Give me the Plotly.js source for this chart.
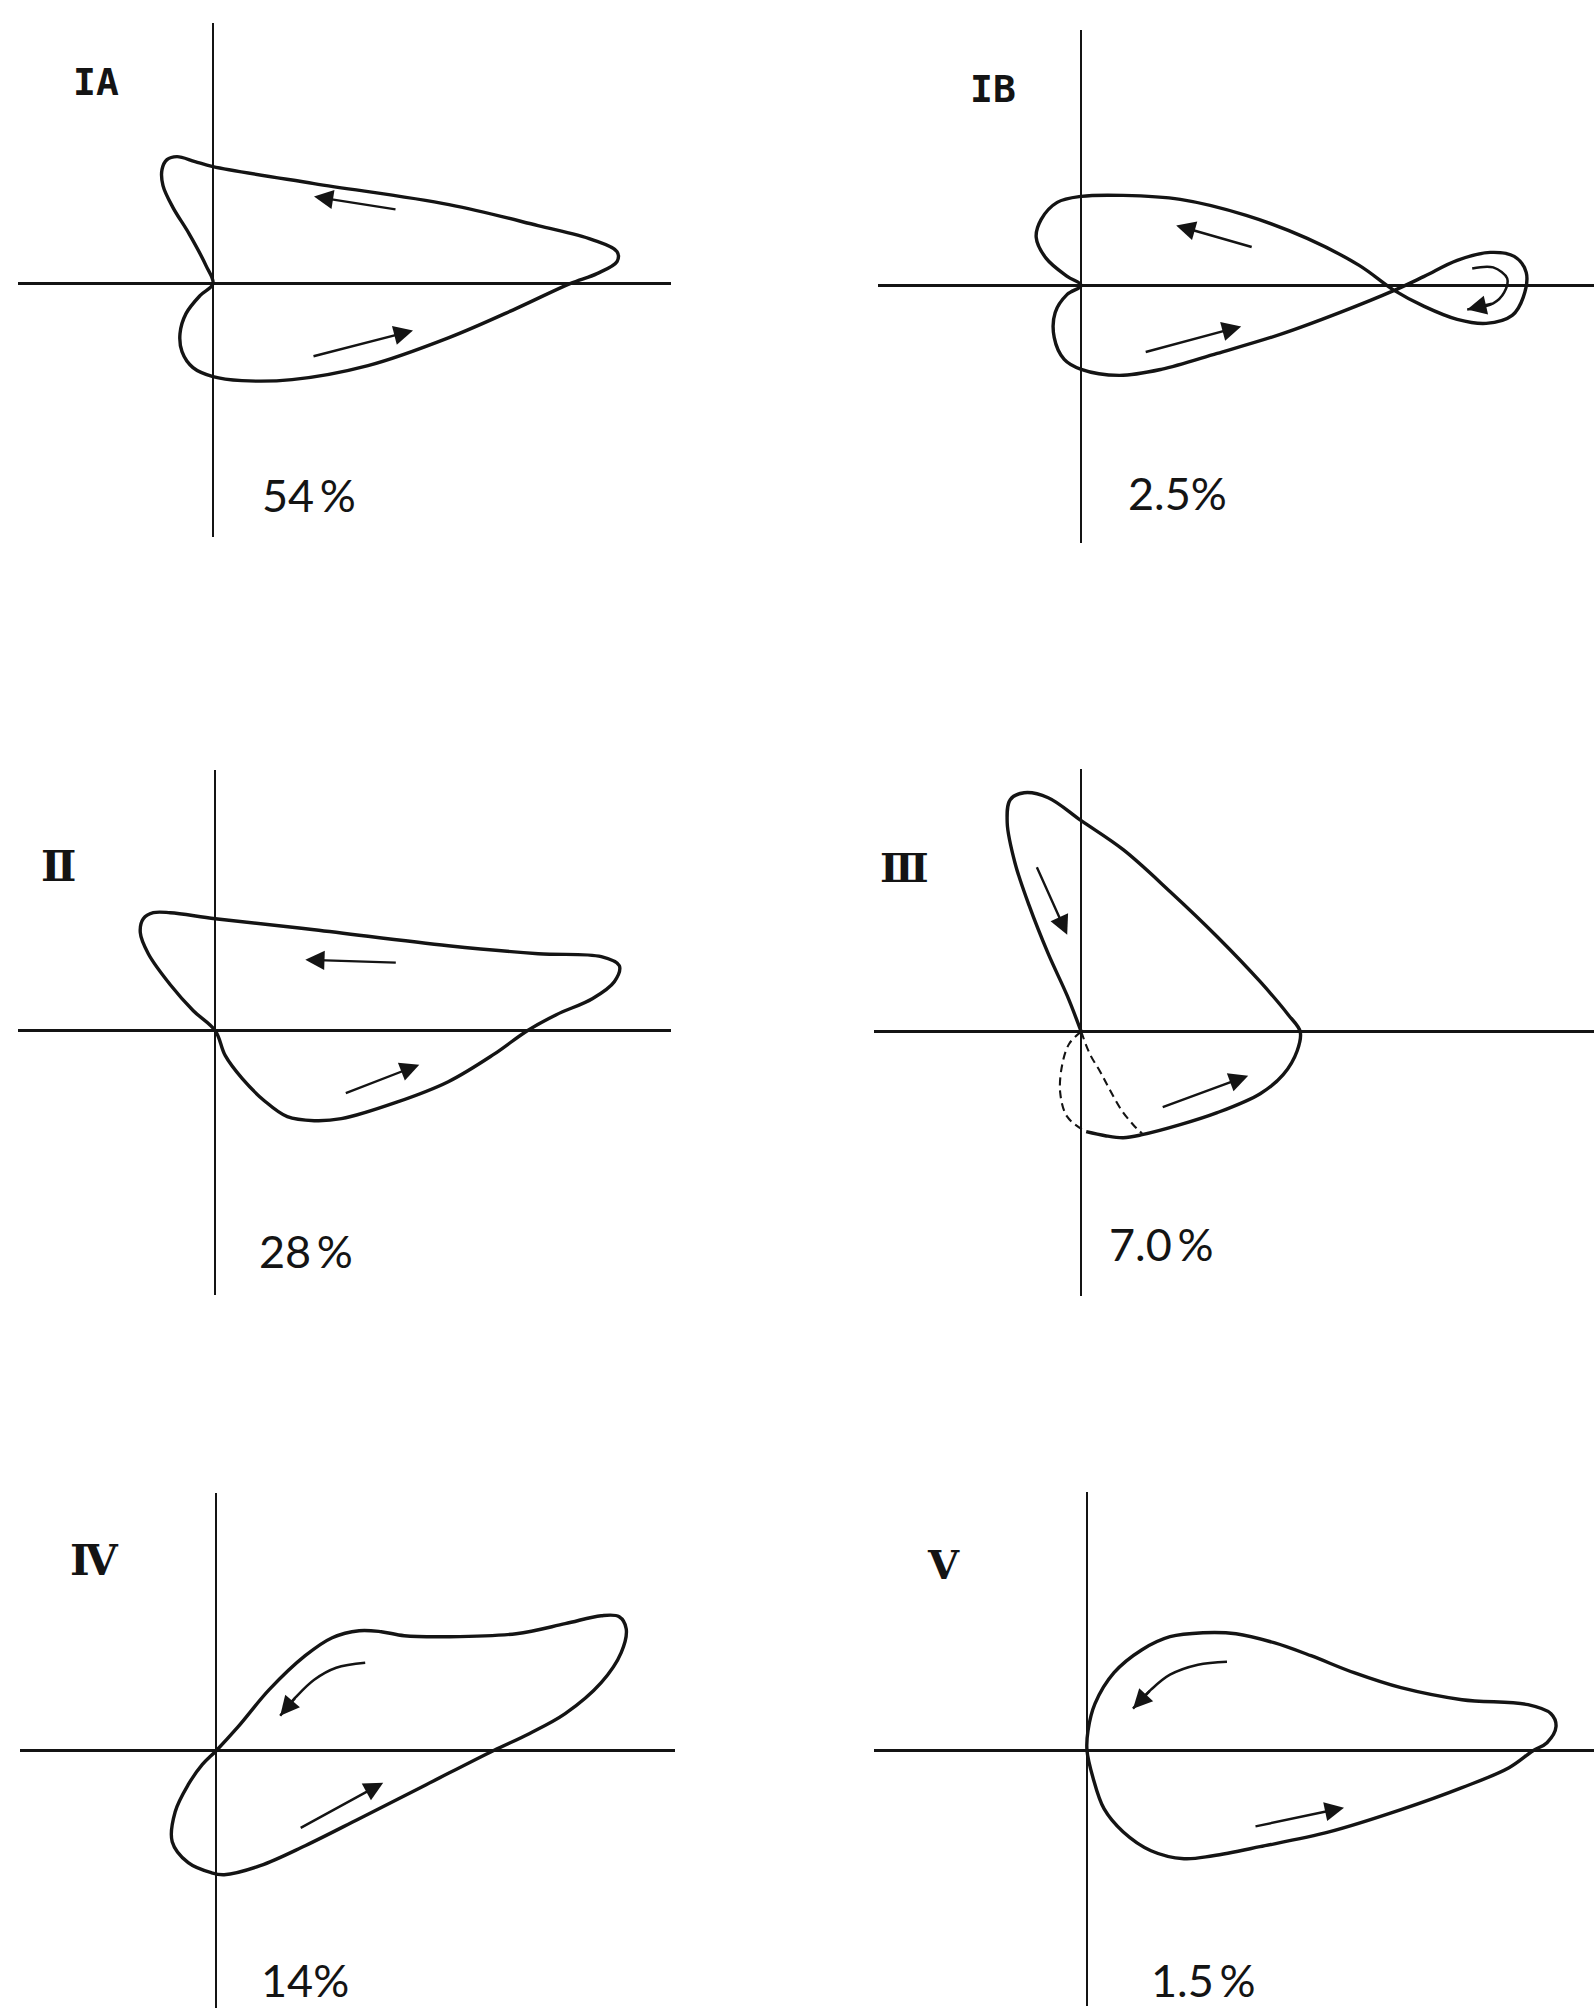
<!DOCTYPE html>
<html>
<head>
<meta charset="utf-8">
<script src="https://cdn.plot.ly/plotly-3.0.1.min.js"></script>
<style>
  html, body { margin: 0; padding: 0; background: #fff; }
  #chart { width: 1594px; height: 2008px; }
</style>
</head>
<body>
<div id="chart"></div>
<script>
// Phase-plane loops for six pattern types, each with its share of cases.
const panelNames  = ['IA', 'IB', 'Ⅱ', 'Ⅲ', 'Ⅳ', 'Ⅴ'];
const panelShares = ['54\u2009%', '2.5%', '28\u2009%', '7.0\u2009%', '14%', '1.5\u2009%'];

// Loop outlines, x/y measured from the axis origin of each panel.
const loopIA_x = [0, -7, -24, -40, -50, -51, -46, -36, -18, 0, 101, 236, 325, 379, 404, 404, 384, 357, 303, 236, 155, 79, 29, 0, -20, -31, -33, -27, -13, 0];
const loopIA_y = [0, 18, 50, 76, 98, 114, 124, 127, 122, 117, 100, 79, 58, 44, 32, 22, 10, 0, -25, -54, -82, -96, -97, -93, -84, -68, -50, -30, -12, 0];

const loopIB_x = [0, -14, -26, -27, -17, 0, 38, 80, 136, 202, 259, 313, 343, 376, 409, 433, 445, 442, 431, 405, 376, 343, 313, 278, 226, 165, 99, 42, 0, -24, -40, -45, -35, -14, 0];
const loopIB_y = [0, -9, -27, -52, -74, -84, -90, -84, -68, -48, -27, -5, 9, 25, 33, 29, 13, -12, -30, -38, -34, -21, -5, 20, 47, 70, 86, 90, 89, 83, 66, 48, 27, 9, 0];

const loopII_x = [99, 233, 323, 386, 404, 399, 377, 341, 312, 278, 233, 180, 126, 99, 72, 49, 27, 10, 0, -22, -45, -67, -75, -72, -62, -45, 0, 99];
const loopII_y = [101, 85, 77, 74, 65, 49, 32, 16, 0, -24, -51, -72, -88, -90, -86, -70, -48, -25, 0, 20, 46, 77, 98, 112, 118, 118, 112, 101];

const loopIII_x = [5, 24, 42, 61, 99, 136, 179, 202, 216, 219, 207, 179, 136, 89, 42, 0, -33, -57, -71, -74, -66, -52, -33, -14, 0];
const loopIII_y = [-100, -104, -106, -103, -93, -81, -62, -43, -19, 0, 17, 50, 95, 140, 182, 211, 234, 239, 232, 209, 168, 126, 78, 36, 0];
// alternative (dashed) return paths near the origin
const altIIIleft_x  = [0, -12, -19, -21, -14, 3];
const altIIIleft_y  = [0, -12, -33, -61, -85, -99];
const altIIIright_x = [0, 9, 19, 28, 40, 52, 61];
const altIIIright_y = [0, -23, -40, -57, -78, -93, -102];

const loopIV_x = [232, 300, 349, 385, 403, 410, 405, 385, 349, 313, 277, 210, 143, 89, 44, 8, -5, -28, -44, -41, -28, -14, 0, 22, 53, 89, 116, 143, 165, 188, 232];
const loopIV_y = [114, 117, 127, 135, 134, 122, 98, 68, 37, 17, 0, -34, -68, -95, -115, -124, -122, -112, -91, -61, -34, -14, 0, 24, 61, 95, 113, 120, 119, 115, 114];

const loopV_x = [116, 149, 187, 224, 267, 314, 375, 441, 464, 469, 460, 446, 422, 375, 314, 243, 173, 126, 97, 64, 36, 17, 6, 0, 1, 8, 27, 55, 83, 116];
const loopV_y = [118, 117, 108, 95, 78, 63, 51, 46, 37, 24, 8, 0, -17, -37, -59, -81, -96, -105, -108, -100, -81, -58, -27, 0, 20, 47, 78, 101, 114, 118];

// Straight direction arrows: [tailX, tailY, headX, headY]
const arrowsIA  = [[184, 74, 101, 87], [99, -73, 200, -47]];
const arrowsIB  = [[172, 38, 95, 60], [63, -67, 160, -41]];
const arrowsII  = [[182, 68, 90, 71], [129, -63, 204, -34]];
const arrowsIII = [[-45, 166, -14, 97], [80, -76, 167, -44]];
const arrowsIV  = [[83, -78, 167, -32]];
const arrowsV   = [[167, -76, 257, -57]];

// Curved direction arrows (shaft points, head at the last point)
const curveIB_x = [391, 412, 426, 423, 412, 386];
const curveIB_y = [17, 18, 7, -7, -18, -24];
const curveIV_x = [149, 120, 98, 80, 64];
const curveIV_y = [88, 83, 71, 54, 35];
const curveV_x  = [140, 111, 83, 64, 46];
const curveV_y  = [89, 86, 76, 61, 42];

// ---- page geometry (pixels) ----
const W = 1594, H = 2008;
const ink = '#141414';

// origin, horizontal axis extent, vertical axis extent; label offsets
const frames = [
  { ox: 213,    oy: 283.6,  hx: [18, 671],   vy: [23, 537],    name: [-117, 202], share: [96, -211] },
  { ox: 1081.2, oy: 285.4,  hx: [878, 1594], vy: [30, 543],    name: [-88, 196],  share: [96, -208] },
  { ox: 215.3,  oy: 1030.7, hx: [18, 671],   vy: [770, 1295],  name: [-157, 164], share: [91, -220] },
  { ox: 1081.2, oy: 1031.7, hx: [874, 1594], vy: [769, 1296],  name: [-177, 164], share: [80, -212] },
  { ox: 216.2,  oy: 1750.7, hx: [20, 675],   vy: [1493, 2008], name: [-122, 190], share: [89, -229] },
  { ox: 1087,   oy: 1750.7, hx: [874, 1594], vy: [1492, 2006], name: [-144, 186], share: [116, -229] }
];
const nameFonts = [
  { family: 'DejaVu Sans Mono', size: 38, weight: 'bold' },
  { family: 'DejaVu Sans Mono', size: 38, weight: 'bold' },
  { family: 'DejaVu Serif', size: 42, weight: 'bold' },
  { family: 'DejaVu Serif', size: 40, weight: 'bold' },
  { family: 'DejaVu Serif', size: 42, weight: 'bold' },
  { family: 'DejaVu Serif', size: 40, weight: 'bold' }
];

const loops = [
  [[loopIA_x, loopIA_y]],
  [[loopIB_x, loopIB_y]],
  [[loopII_x, loopII_y]],
  [[loopIII_x, loopIII_y]],
  [[loopIV_x, loopIV_y]],
  [[loopV_x, loopV_y]]
];
const dashed = [[], [], [], [[altIIIleft_x, altIIIleft_y], [altIIIright_x, altIIIright_y]], [], []];
const straightArrows = [arrowsIA, arrowsIB, arrowsII, arrowsIII, arrowsIV, arrowsV];
const curvedArrows = [[], [[curveIB_x, curveIB_y]], [], [], [[curveIV_x, curveIV_y]], [[curveV_x, curveV_y]]];

const traces = [];
const annotations = [];
const layout = {
  width: W, height: H,
  margin: { l: 0, r: 0, t: 0, b: 0 },
  paper_bgcolor: '#fff', plot_bgcolor: '#fff',
  showlegend: false,
  annotations: annotations
};

function arrowAnn(xr, yr, tx, ty, hx, hy) {
  return {
    xref: xr, yref: yr, axref: xr, ayref: yr,
    x: hx, y: hy, ax: tx, ay: ty,
    text: '', showarrow: true,
    arrowhead: 2, arrowsize: 1.6, arrowwidth: 2.4, arrowcolor: ink,
    standoff: 0, startstandoff: 0
  };
}

frames.forEach((f, i) => {
  const sfx = i === 0 ? '' : String(i + 1);
  const xr = 'x' + sfx, yr = 'y' + sfx;

  layout['xaxis' + sfx] = {
    domain: [f.hx[0] / W, f.hx[1] / W],
    range: [f.hx[0] - f.ox, f.hx[1] - f.ox],
    anchor: yr, autorange: false, fixedrange: true,
    showgrid: false, showticklabels: false, ticks: '', showline: false,
    zeroline: true, zerolinecolor: ink, zerolinewidth: 2.2
  };
  layout['yaxis' + sfx] = {
    domain: [1 - f.vy[1] / H, 1 - f.vy[0] / H],
    range: [f.oy - f.vy[1], f.oy - f.vy[0]],
    anchor: xr, autorange: false, fixedrange: true,
    showgrid: false, showticklabels: false, ticks: '', showline: false,
    zeroline: true, zerolinecolor: ink, zerolinewidth: 2.8
  };

  loops[i].forEach(([xs, ys]) => traces.push({
    type: 'scatter', mode: 'lines', x: xs, y: ys, xaxis: xr, yaxis: yr,
    line: { color: ink, width: 3.4, shape: 'spline', smoothing: 1 },
    hoverinfo: 'skip'
  }));
  dashed[i].forEach(([xs, ys]) => traces.push({
    type: 'scatter', mode: 'lines', x: xs, y: ys, xaxis: xr, yaxis: yr,
    line: { color: ink, width: 2.1, shape: 'spline', dash: '8px,5px' },
    hoverinfo: 'skip'
  }));
  straightArrows[i].forEach(a => annotations.push(arrowAnn(xr, yr, a[0], a[1], a[2], a[3])));
  curvedArrows[i].forEach(([xs, ys]) => {
    traces.push({
      type: 'scatter', mode: 'lines', x: xs, y: ys, xaxis: xr, yaxis: yr,
      line: { color: ink, width: 2.5, shape: 'spline' }, hoverinfo: 'skip'
    });
    const n = xs.length;
    annotations.push(arrowAnn(xr, yr, xs[n - 2], ys[n - 2], xs[n - 1], ys[n - 1]));
  });

  annotations.push({
    xref: xr, yref: yr, x: f.name[0], y: f.name[1], showarrow: false,
    text: panelNames[i],
    font: Object.assign({ color: ink }, nameFonts[i])
  });
  annotations.push({
    xref: xr, yref: yr, x: f.share[0], y: f.share[1], showarrow: false,
    text: panelShares[i],
    font: { family: 'Lato', size: 45, color: ink }
  });
});

Plotly.newPlot('chart', traces, layout, { staticPlot: true, displayModeBar: false });
</script>
</body>
</html>
